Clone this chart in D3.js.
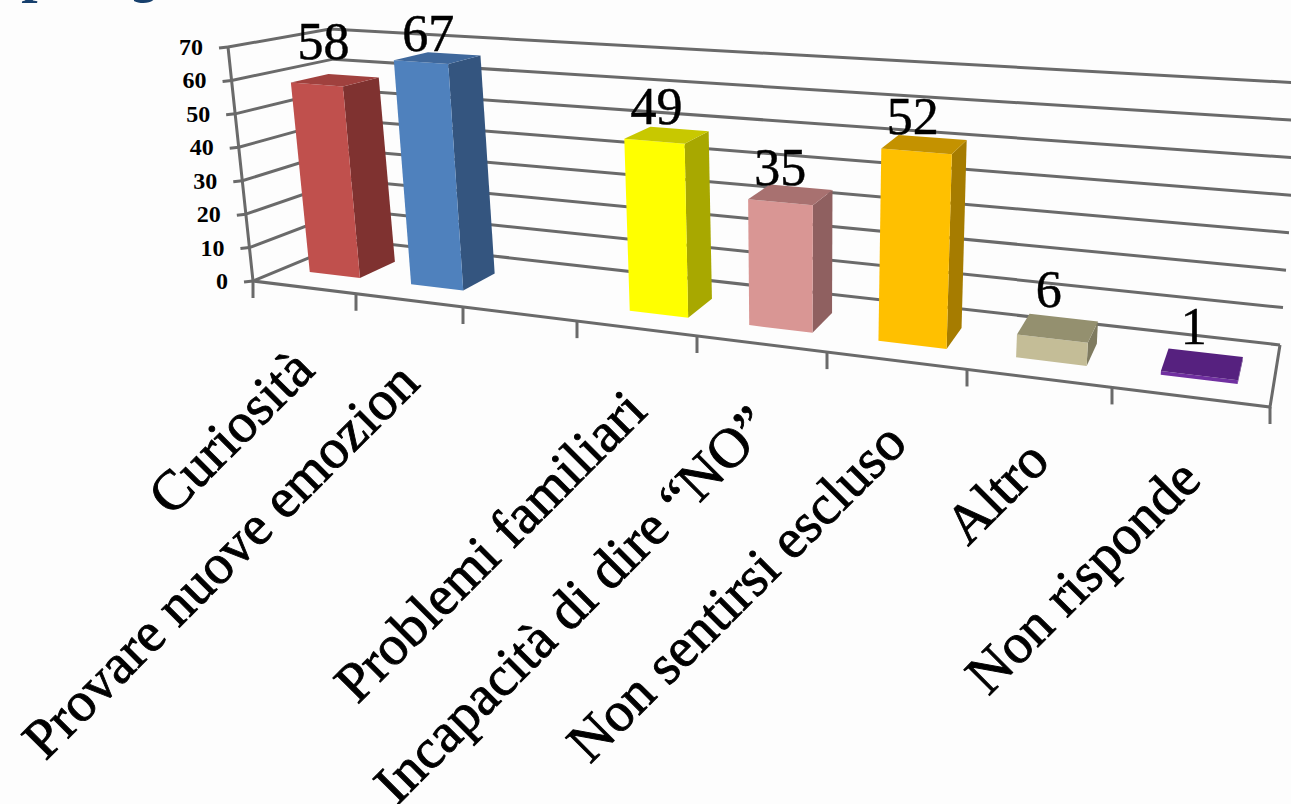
<!DOCTYPE html>
<html>
<head>
<meta charset="utf-8">
<script src="https://cdn.jsdelivr.net/npm/d3@7"></script>
<style>
  html, body { margin: 0; padding: 0; background: #fdfdfd; overflow: hidden; }
  text { font-family: "Liberation Serif", serif; fill: #000; }
</style>
</head>
<body>
<div id="chart"></div>
<script>
// Values (slot 2 has an empty category in the original)
var categories = ['Curiosità', 'Provare nuove emozion', '', 'Problemi familiari', 'Incapacità di dire “NO”', 'Non sentirsi escluso', 'Altro', 'Non risponde'];
var values = [58, 67, null, 49, 35, 52, 6, 1];
var valueTicks = [0, 10, 20, 30, 40, 50, 60, 70];

// Bar colours: front, side, top
var frontColors = ['#c0504d', '#4f81bd', null, '#ffff00', '#d99694', '#ffc000', '#c4bd97', '#7030a0'];
var sideColors = ['#7f3230', '#34557f', null, '#a8a800', '#8f6060', '#a67c00', '#7f7b60', '#4b1f6f'];
var topColors = ['#a0413e', '#3f689c', null, '#c8c800', '#a87170', '#c49200', '#94906f', '#56217f'];

// Corners of the drawn box on the page: f/b = front/back, l/r = left/right, 0/1 = floor/top
var box = {
    fl0: [253, 281], fr0: [1270, 407], fl1: [228, 47], fr1: [1293, 120],
    bl0: [352, 240], br0: [1280, 345], bl1: [330, 29], br1: [1301, 83]
};
// The category slots get wider to the right, as measured from the tick marks
var tickFractions = [253, 356, 463, 577, 697, 827, 967, 1112, 1270].map(function(x) { return (x - 253) / 1017; });
// Hand adjustment of each value label from the bar top
var labelNudge = [[-30, -17], [-26, -3], null, [-23, -5], [-21, -2], [-20, -4], [-15, -11], [-12, -9]];

var uScale = d3.scaleLinear().domain(d3.range(9)).range(tickFractions);
var vScale = d3.scaleLinear().domain([0, 70]).range([0, 1]);

function mix(a, b, t) {
    return [a[0] + (b[0] - a[0]) * t, a[1] + (b[1] - a[1]) * t];
}

// u = category slot position, v = value, z = depth from front (0) to back (1)
function project(u, v, z) {
    var tx = uScale(u), ty = vScale(v);
    var floor = mix(mix(box.fl0, box.fr0, tx), mix(box.bl0, box.br0, tx), z);
    var roof = mix(mix(box.fl1, box.fr1, tx), mix(box.bl1, box.br1, tx), z);
    return mix(floor, roof, ty);
}

var svg = d3.select('#chart').append('svg')
    .attr('width', 1291)
    .attr('height', 804);

// Cut-off bottom of the slide title above the chart
var titleBits = svg.append('g')
    .style('font-weight', 'bold')
    .style('font-style', 'italic')
    .style('font-size', '58px');
titleBits.append('text').attr('x', 26).attr('y', -9).style('fill', '#17406d').text('p');
titleBits.append('text').attr('x', 135).attr('y', -9).style('fill', '#17406d').text('g');

var line = d3.line();
var grid = svg.append('g')
    .attr('fill', 'none')
    .attr('stroke', '#6a6a6a')
    .attr('stroke-width', 3);

// Grid lines on the left and back walls
valueTicks.forEach(function(v) {
    grid.append('path').attr('d', line([project(0, v, 0), project(0, v, 1), project(8, v, 1)]));
    // tick to the left of the value axis
    var p = project(0, v, 0);
    grid.append('path').attr('d', line([p, [p[0] - 9, p[1] + 1]]));
});

// Value axis, floor edges and category ticks
grid.append('path').attr('d', line([project(0, 70, 0), project(0, 0, 0), project(8, 0, 0), project(8, 0, 1)]));
d3.range(9).forEach(function(u) {
    var p = project(u, 0, 0);
    grid.append('path').attr('d', line([p, [p[0], p[1] + 17]]));
});

// Value axis labels
svg.append('g').selectAll('text')
    .data(valueTicks)
    .join('text')
    .attr('x', function(d) { return project(0, d, 0)[0] - 25; })
    .attr('y', function(d) { return project(0, d, 0)[1] + 8; })
    .attr('text-anchor', 'end')
    .style('font-size', '24px')
    .style('font-weight', 'bold')
    .text(function(d) { return d; });

// Bars
var barWidth = 0.5, barShift = 0.27, zFront = 0.3, zBack = 0.68;
var bars = svg.append('g');
values.forEach(function(v, i) {
    if (v === null) return;
    var u0 = i + barShift, u1 = u0 + barWidth;
    bars.append('path')
        .attr('fill', sideColors[i])
        .attr('d', line([project(u1, 0, zFront), project(u1, v, zFront), project(u1, v, zBack), project(u1, 0, zBack)]) + 'Z');
    bars.append('path')
        .attr('fill', frontColors[i])
        .attr('d', line([project(u0, 0, zFront), project(u0, v, zFront), project(u1, v, zFront), project(u1, 0, zFront)]) + 'Z');
    bars.append('path')
        .attr('fill', topColors[i])
        .attr('d', line([project(u0, v, zFront), project(u0, v, zBack), project(u1, v, zBack), project(u1, v, zFront)]) + 'Z');
});

// Value labels above the bars
svg.append('g').selectAll('text')
    .data(values.map(function(v, i) { return { v: v, i: i }; }).filter(function(d) { return d.v !== null; }))
    .join('text')
    .attr('x', function(d) { return project(d.i + barShift + barWidth / 2, d.v, zBack)[0] + labelNudge[d.i][0]; })
    .attr('y', function(d) { return project(d.i + barShift + barWidth / 2, d.v, zBack)[1] + labelNudge[d.i][1]; })
    .attr('text-anchor', 'middle')
    .attr('stroke', '#000')
    .attr('stroke-width', 0.5)
    .style('font-size', '52px')
    .text(function(d) { return d.v; });

// Category labels, rotated and ending under their slot
svg.append('g').selectAll('text')
    .data(categories)
    .join('text')
    .attr('transform', function(d, i) {
        var p = project(i + 0.5, 0, 0);
        return 'translate(' + (p[0] + 12) + ',' + (p[1] + 85) + ') rotate(-45)';
    })
    .attr('text-anchor', 'end')
    .attr('stroke', '#000')
    .attr('stroke-width', 0.9)
    .style('font-size', '56px')
    .text(function(d) { return d; });
</script>
</body>
</html>
